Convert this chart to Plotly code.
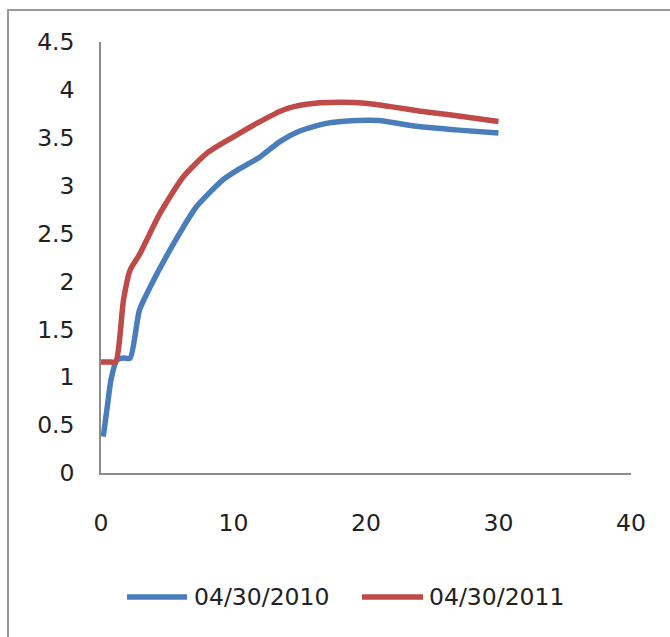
import plotly.graph_objects as go

# Yield curve readings for two dates (maturity in years vs. yield in %)
maturity_2010 = [0.17, 0.5, 0.75, 1.2, 1.7, 2.2, 2.9, 3.7, 5.5, 7.2, 9.2, 10.5, 12.0, 13.5, 15.0,
                 17.0, 19.3, 21.0, 23.8, 27.0, 30.0]
yield_2010 = [0.38, 0.72, 0.97, 1.18, 1.20, 1.20, 1.70, 1.94, 2.40, 2.78, 3.06, 3.18, 3.30, 3.46, 3.57,
              3.65, 3.68, 3.68, 3.62, 3.58, 3.55]

maturity_2011 = [0.0, 0.6, 1.1, 1.7, 2.2, 2.9, 4.45, 6.2, 8.0, 10.0, 11.75, 13.75, 15.5, 18.0, 20.0,
                 22.1, 24.0, 26.3, 30.0]
yield_2011 = [1.16, 1.16, 1.16, 1.81, 2.12, 2.28, 2.71, 3.09, 3.34, 3.51, 3.65, 3.79, 3.85, 3.87, 3.86,
              3.82, 3.78, 3.74, 3.67]

series_names = ["04/30/2010", "04/30/2011"]
series_colors = ["#4a7ebb", "#be4b48"]

x_ticks = [0, 10, 20, 30, 40]
y_ticks = [0, 0.5, 1, 1.5, 2, 2.5, 3, 3.5, 4, 4.5]
y_tick_text = ["0", "0.5", "1", "1.5", "2", "2.5", "3", "3.5", "4", "4.5"]

FONT = dict(family="DejaVu Sans", size=23.5, color="#222222")
W, H = 670, 637
L, R, T, B = 101, 39, 42, 164
plot_w, plot_h = W - L - R, H - T - B


def px_x(px):
    return (px - L) / plot_w


def px_y(py):
    return (H - B - py) / plot_h


fig = go.Figure()
for xs, ys, name, color in zip([maturity_2010, maturity_2011], [yield_2010, yield_2011],
                               series_names, series_colors):
    fig.add_trace(go.Scatter(
        x=xs, y=ys, name=name, mode="lines",
        line=dict(color=color, width=5.5, shape="spline", smoothing=0.6),
        showlegend=False,
    ))

# Outer chart border (top and left edges visible)
fig.add_shape(type="rect", xref="paper", yref="paper",
              x0=px_x(8), x1=px_x(720), y0=px_y(700), y1=px_y(10),
              line=dict(color="#9a9a9a", width=2), fillcolor="rgba(0,0,0,0)", layer="below")

# Legend drawn below the plot with long line samples
legend_y = px_y(597)
legend_items = [(127, 187, 192), (362, 423, 427)]
for (x0, x1, tx), name, color in zip(legend_items, series_names, series_colors):
    fig.add_shape(type="line", xref="paper", yref="paper",
                  x0=px_x(x0), x1=px_x(x1), y0=legend_y, y1=legend_y,
                  line=dict(color=color, width=5.5))
    fig.add_annotation(xref="paper", yref="paper", x=px_x(tx), y=legend_y,
                       text=name, showarrow=False, xanchor="left", yanchor="middle",
                       font=FONT)

fig.update_xaxes(range=[0, 40], tickvals=x_ticks, showgrid=False, zeroline=False,
                 showline=True, linecolor="#8c8c8c", linewidth=1.5,
                 ticks="", ticklabelstandoff=28, tickfont=FONT)
fig.update_yaxes(range=[0, 4.5], tickvals=y_ticks, ticktext=y_tick_text, showgrid=False,
                 zeroline=False, showline=True, linecolor="#8c8c8c", linewidth=1.5,
                 ticks="", ticklabelstandoff=20, tickfont=FONT)

fig.update_layout(
    width=W, height=H,
    margin=dict(l=L, r=R, t=T, b=B, pad=0),
    plot_bgcolor="white", paper_bgcolor="white",
    font=FONT,
)

fig.write_html("out.html")
